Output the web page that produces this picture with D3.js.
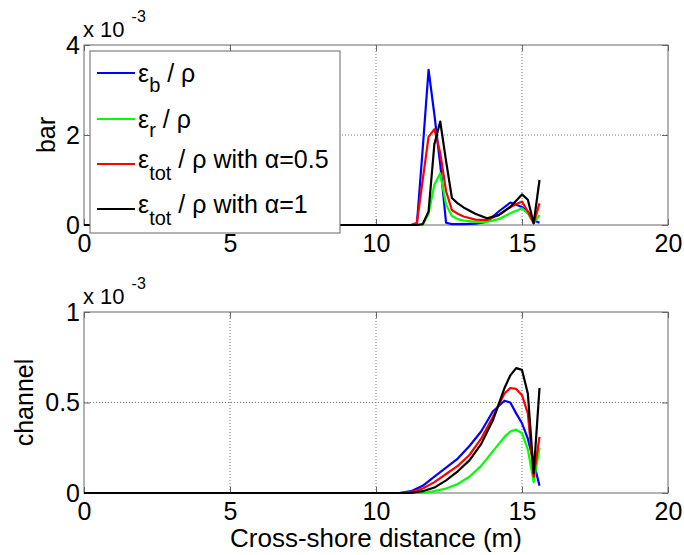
<!DOCTYPE html>
<html>
<head>
<meta charset="utf-8">
<script src="https://cdn.jsdelivr.net/npm/d3@7"></script>
<style>
  html, body { margin: 0; padding: 0; background: #fff; }
  svg { display: block; }
  text { font-family: "Liberation Sans", Arial, sans-serif; fill: #000; }
</style>
</head>
<body>
<svg id="chart" width="684" height="555"></svg>
<script>
// ---------- data (values in units of 1e-3) ----------
const xTicks = [0, 5, 10, 15, 20];
const barYTicks = [0, 2, 4];
const chYTicks = [0, 0.5, 1];

const xBar = [0, 11.2, 11.4, 11.6, 11.8, 12.0, 12.2, 12.4, 12.6, 12.8, 13.0, 13.4, 13.8, 14.2, 14.6, 15.0, 15.2, 15.4, 15.6];
const barEb     = [0, 0, 0.02, 1.7, 3.45, 2.45, 1.35, 0.05, 0.02, 0.02, 0.02, 0.03, 0.07, 0.3, 0.5, 0.4, 0.29, 0.1, 0.05];
const barEr     = [0, 0, 0, 0, 0.25, 0.9, 1.15, 0.45, 0.2, 0.13, 0.1, 0.07, 0.07, 0.13, 0.26, 0.37, 0.26, 0.04, 0.22];
const barEtot05 = [0, 0, 0.05, 1.0, 1.96, 2.13, 1.6, 0.75, 0.33, 0.25, 0.19, 0.12, 0.11, 0.22, 0.4, 0.52, 0.3, 0.04, 0.48];
const barEtot1  = [0, 0, 0, 0.02, 0.3, 1.8, 2.3, 1.42, 0.6, 0.48, 0.39, 0.25, 0.15, 0.22, 0.4, 0.68, 0.56, 0.04, 1.0];

const xCh = [0, 10.8, 11.2, 11.6, 12.0, 12.4, 12.8, 13.2, 13.6, 14.0, 14.4, 14.6, 14.8, 15.0, 15.2, 15.4, 15.6];
const chEb     = [0, 0, 0.01, 0.04, 0.09, 0.14, 0.19, 0.26, 0.34, 0.45, 0.51, 0.5, 0.44, 0.385, 0.3, 0.17, 0.04];
const chEr     = [0, 0, 0, 0, 0.01, 0.025, 0.05, 0.09, 0.15, 0.23, 0.31, 0.34, 0.35, 0.33, 0.24, 0.06, 0.25];
const chEtot05 = [0, 0, 0.005, 0.025, 0.06, 0.105, 0.15, 0.21, 0.3, 0.42, 0.55, 0.58, 0.575, 0.54, 0.44, 0.09, 0.31];
const chEtot1  = [0, 0, 0, 0.01, 0.03, 0.07, 0.12, 0.18, 0.27, 0.4, 0.58, 0.65, 0.69, 0.68, 0.55, 0.11, 0.58];

const seriesColors = ["#0000ff", "#00ff00", "#ff0000", "#000000"];
const legendMain = ["ε", "ε", "ε", "ε"];
const legendSub = ["b", "r", "tot", "tot"];
const legendRest = [" / ρ", " / ρ", " / ρ with α=0.5", " / ρ with α=1"];

// ---------- layout ----------
const svg = d3.select("#chart");
const FS = 25;
const plotLeft = 84, plotRight = 668;

function panel(cfg) {
  const x = d3.scaleLinear().domain([0, 20]).range([plotLeft, plotRight]);
  const y = d3.scaleLinear().domain(cfg.yDomain).range([cfg.bottom, cfg.top]);
  const g = svg.append("g");
  const h = cfg.bottom - cfg.top;

  // grid
  g.append("g").selectAll("line").data(xTicks.slice(1, -1)).join("line")
    .attr("x1", d => x(d)).attr("x2", d => x(d))
    .attr("y1", cfg.top).attr("y2", cfg.bottom)
    .attr("stroke", "#777").attr("stroke-width", 1).attr("stroke-dasharray", "1,2");
  g.append("g").selectAll("line").data(cfg.yTicks.slice(1, -1)).join("line")
    .attr("x1", plotLeft).attr("x2", plotRight)
    .attr("y1", d => y(d)).attr("y2", d => y(d))
    .attr("stroke", "#777").attr("stroke-width", 1).attr("stroke-dasharray", "1,2");

  // box
  g.append("rect").attr("x", plotLeft).attr("y", cfg.top)
    .attr("width", plotRight - plotLeft).attr("height", h)
    .attr("fill", "none").attr("stroke", "#666").attr("stroke-width", 1);

  // axes
  const ax = g.append("g").attr("transform", `translate(0,${cfg.bottom})`)
    .call(d3.axisBottom(x).tickValues(xTicks).tickSize(-6).tickPadding(9).tickFormat(d3.format("d")));
  const axT = g.append("g").attr("transform", `translate(0,${cfg.top})`)
    .call(d3.axisTop(x).tickValues(xTicks).tickSize(-6).tickFormat(""));
  const ay = g.append("g").attr("transform", `translate(${plotLeft},0)`)
    .call(d3.axisLeft(y).tickValues(cfg.yTicks).tickSize(-6).tickPadding(4).tickFormat(cfg.fmt));
  const ayR = g.append("g").attr("transform", `translate(${plotRight},0)`)
    .call(d3.axisRight(y).tickValues(cfg.yTicks).tickSize(-6).tickFormat(""));
  [ax, axT, ay, ayR].forEach(a => {
    a.select(".domain").remove();
    a.selectAll(".tick line").attr("stroke", "#666");
    a.selectAll("text").attr("font-size", FS).attr("font-family", '"Liberation Sans", Arial, sans-serif').attr("fill", "#000");
  });

  // lines
  const clipId = "clip" + cfg.top;
  svg.append("clipPath").attr("id", clipId).append("rect")
    .attr("x", plotLeft).attr("y", cfg.top - 2).attr("width", plotRight - plotLeft).attr("height", h + 4);
  const line = d3.line().x(d => x(d[0])).y(d => y(d[1]));
  const lg = g.append("g").attr("clip-path", `url(#${clipId})`);
  cfg.series.forEach((s, i) => {
    lg.append("path").datum(cfg.xs.map((xv, j) => [xv, s[j]]))
      .attr("d", line).attr("fill", "none")
      .attr("stroke", seriesColors[i]).attr("stroke-width", 2.2)
      .attr("stroke-linejoin", "round");
  });

  // exponent label
  const ex = g.append("text").attr("x", 83).attr("y", cfg.top - 8).attr("font-size", 22);
  ex.append("tspan").text("x 10");
  ex.append("tspan").attr("font-size", 16).attr("dx", 7).attr("dy", -15).text("-3");

  // y label
  g.append("text").attr("transform", `translate(${cfg.ylabX},${(cfg.top + cfg.bottom) / 2}) rotate(-90)`)
    .attr("text-anchor", "middle").attr("font-size", FS).text(cfg.ylabel);
  return { g, x, y };
}

panel({
  top: 45, bottom: 225, yDomain: [0, 4], yTicks: barYTicks, fmt: d3.format("d"),
  xs: xBar, series: [barEb, barEr, barEtot05, barEtot1], ylabel: "bar", ylabX: 55
});
panel({
  top: 312, bottom: 493, yDomain: [0, 1], yTicks: chYTicks, fmt: d => (d === 0.5 ? "0.5" : d3.format("d")(d)),
  xs: xCh, series: [chEb, chEr, chEtot05, chEtot1], ylabel: "channel", ylabX: 33
});

// x label
svg.append("text").attr("x", 376).attr("y", 547).attr("text-anchor", "middle")
  .attr("font-size", 26).text("Cross-shore distance (m)");

// legend
const lgd = svg.append("g");
lgd.append("rect").attr("x", 90).attr("y", 51).attr("width", 250).attr("height", 182)
  .attr("fill", "#fff").attr("stroke", "#666").attr("stroke-width", 1);
const rowY = [73, 119, 164, 209];
const baseOff = [9, 9, 4, 4];
const subOff = [10, 9, 12, 12];
rowY.forEach((ry, i) => {
  lgd.append("line").attr("x1", 97).attr("x2", 135).attr("y1", ry).attr("y2", ry)
    .attr("stroke", seriesColors[i]).attr("stroke-width", 2);
  const t = lgd.append("text").attr("x", 138).attr("y", ry + baseOff[i]).attr("font-size", FS);
  t.append("tspan").text(legendMain[i]);
  t.append("tspan").attr("font-size", 20).attr("dy", subOff[i]).text(legendSub[i]);
  t.append("tspan").attr("dy", -subOff[i]).text(legendRest[i]);
});
</script>
</body>
</html>
